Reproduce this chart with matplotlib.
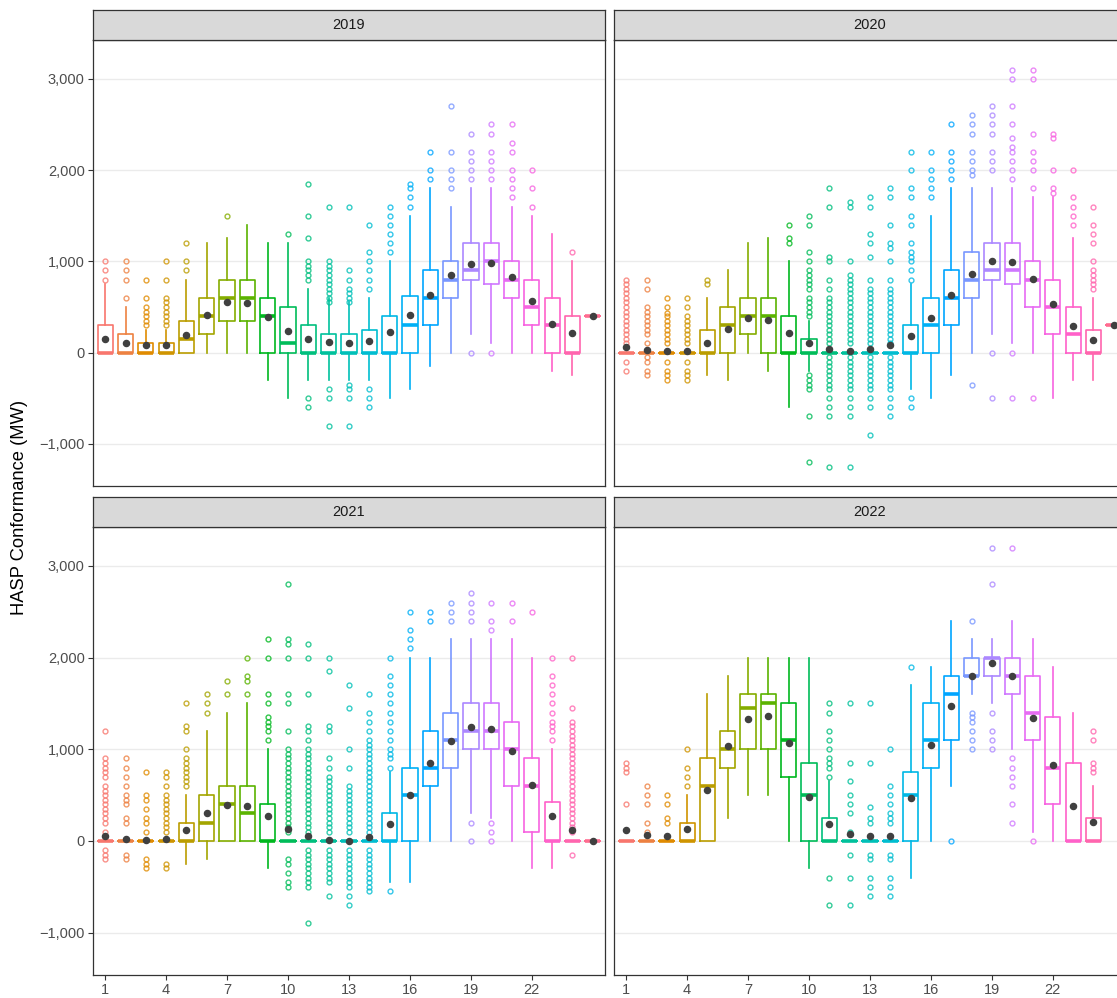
import numpy as np
import matplotlib
matplotlib.use('Agg')
import matplotlib.pyplot as plt

plt.rcParams['font.family'] = ['Liberation Sans', 'DejaVu Sans']

# hour of day (25 = DST fall-back hour)
hours = list(range(1, 26))
years = ['2019', '2020', '2021', '2022']
xtick_hours = [1, 4, 7, 10, 13, 16, 19, 22]
ytick_vals = [-1000, 0, 1000, 2000, 3000]
ytick_labels = ['\u22121,000', '0', '1,000', '2,000', '3,000']

# ---- 2019 ----
q1_2019 = [0, 0, 0, 0, 0, 200, 350, 350, 0, 0, 0, 0, 0, 0, 0, 0, 300, 600, 800, 750, 600, 300, 0, 0, 400]
med_2019 = [0, 0, 0, 0, 150, 400, 600, 600, 400, 100, 0, 0, 0, 0, 0, 300, 600, 800, 900, 1000, 800, 500, 300, 0, 400]
q3_2019 = [300, 200, 100, 100, 350, 600, 800, 800, 600, 500, 300, 200, 200, 250, 400, 620, 900, 1000, 1200, 1200, 1000, 800, 600, 400, 400]
wlo_2019 = [0, 0, 0, 0, 0, 0, 0, 0, -300, -500, -300, -300, -300, -300, -500, -400, -150, 0, 200, 100, 0, 0, -200, -250, 400]
whi_2019 = [750, 500, 250, 250, 800, 1200, 1250, 1400, 1200, 1200, 700, 600, 550, 600, 1000, 1500, 1800, 1600, 1800, 1800, 1600, 1500, 1300, 1000, 400]
mean_2019 = [150, 110, 80, 85, 195, 410, 555, 545, 385, 240, 150, 120, 110, 130, 220, 410, 630, 855, 975, 985, 825, 560, 315, 210, 400]
out_2019 = [
    [800, 900, 1000],
    [600, 800, 900, 1000],
    [300, 350, 400, 450, 500, 600, 800],
    [300, 350, 400, 450, 500, 550, 600, 800, 1000],
    [900, 1000, 1200],
    [],
    [1500],
    [],
    [],
    [1300],
    [800, 850, 900, 950, 1000, 1250, 1500, 1850, -500, -600],
    [550, 600, 650, 700, 750, 800, 850, 900, 950, 1000, 1600, -400, -500, -800],
    [550, 600, 650, 700, 800, 900, 1600, -350, -400, -500, -800],
    [700, 800, 900, 1000, 1100, 1400, -400, -500, -600],
    [1100, 1200, 1300, 1400, 1500, 1600],
    [1600, 1700, 1800, 1850],
    [1900, 2000, 2200],
    [1800, 1900, 2000, 2200, 2700],
    [1900, 2000, 2100, 2200, 2400, 0],
    [1900, 2000, 2100, 2200, 2400, 2500, 0],
    [1700, 1800, 1900, 2000, 2200, 2300, 2500],
    [1600, 1800, 2000],
    [],
    [1100],
    [],
]

# ---- 2020 ----
q1_2020 = [0, 0, 0, 0, 0, 0, 200, 0, 0, 0, 0, 0, 0, 0, 0, 0, 300, 600, 800, 750, 500, 200, 0, 0, 300]
med_2020 = [0, 0, 0, 0, 0, 300, 400, 400, 0, 0, 0, 0, 0, 0, 0, 300, 600, 800, 900, 900, 800, 500, 200, 0, 300]
q3_2020 = [0, 0, 0, 0, 250, 500, 600, 600, 400, 150, 0, 0, 0, 0, 300, 600, 900, 1100, 1200, 1200, 1000, 800, 500, 250, 300]
wlo_2020 = [0, 0, 0, 0, -250, -300, 0, -200, -600, -200, 0, 0, 0, 0, -400, -500, -250, 0, 200, 100, 0, -500, -300, -300, 300]
whi_2020 = [0, 0, 0, 0, 600, 900, 1200, 1250, 1000, 350, 0, 0, 0, 0, 750, 1500, 1800, 1800, 1800, 1800, 1700, 1700, 1250, 600, 300]
mean_2020 = [65, 30, 18, 22, 100, 255, 380, 355, 215, 100, 35, 22, 35, 85, 178, 375, 635, 865, 1000, 995, 810, 535, 295, 135, 300]
out_2020 = [
    [100, 150, 200, 250, 300, 350, 400, 450, 500, 550, 600, 650, 700, 750, 800, -100, -200],
    [100, 200, 250, 300, 350, 400, 450, 500, 700, 800, -50, -100, -200, -250],
    [100, 150, 200, 250, 300, 350, 400, 430, 500, 600, -100, -200, -250, -300],
    [100, 150, 200, 250, 300, 350, 400, 500, 600, -100, -200, -250, -300],
    [750, 800],
    [],
    [],
    [],
    [1200, 1250, 1400],
    [400, 450, 500, 550, 600, 700, 750, 800, 850, 900, 1000, 1100, 1400, 1500, -250, -300, -350, -400, -700, -1200],
    [100, 150, 200, 250, 300, 350, 400, 450, 500, 550, 600, 700, 800, 1000, 1050, 1600, 1800,
     -50, -100, -150, -200, -250, -300, -350, -400, -500, -600, -700, -1250],
    [100, 150, 200, 250, 300, 350, 400, 450, 500, 550, 600, 650, 700, 750, 800, 850, 1000, 1600, 1650,
     -50, -100, -150, -200, -250, -300, -350, -400, -500, -600, -700, -1250],
    [100, 150, 200, 250, 300, 350, 400, 450, 500, 550, 600, 650, 700, 800, 1050, 1200, 1300, 1600, 1700,
     -50, -100, -150, -200, -250, -300, -350, -400, -500, -600, -900],
    [100, 150, 200, 250, 300, 350, 400, 450, 500, 550, 600, 650, 700, 800, 1000, 1150, 1200, 1400, 1700, 1800,
     -50, -100, -150, -200, -250, -300, -350, -400, -500, -600, -700],
    [800, 900, 1000, 1050, 1100, 1200, 1400, 1500, 1700, 1800, 2000, 2200, -500, -600],
    [1700, 1800, 1900, 2000, 2200],
    [1900, 2000, 2100, 2200, 2500],
    [1950, 2000, 2100, 2200, 2400, 2500, 2600, -350],
    [2000, 2100, 2200, 2400, 2500, 2600, 2700, 0, -500],
    [1900, 2000, 2100, 2200, 2250, 2350, 2500, 2700, 3000, 3100, 0, -500],
    [1800, 2000, 2100, 2200, 2400, 3000, 3100, -500],
    [1750, 1800, 2000, 2350, 2400],
    [1400, 1500, 1600, 1700, 2000],
    [700, 750, 800, 850, 900, 1000, 1200, 1300, 1400, 1600],
    [],
]

# ---- 2021 ----
q1_2021 = [0, 0, 0, 0, 0, 0, 0, 0, 0, 0, 0, 0, 0, 0, 0, 0, 600, 800, 1000, 1000, 600, 100, 0, 0, 0]
med_2021 = [0, 0, 0, 0, 0, 200, 400, 300, 0, 0, 0, 0, 0, 0, 0, 500, 800, 1100, 1200, 1200, 1000, 600, 0, 0, 0]
q3_2021 = [0, 0, 0, 0, 200, 500, 600, 600, 400, 0, 0, 0, 0, 0, 300, 800, 1200, 1400, 1500, 1500, 1300, 900, 425, 0, 0]
wlo_2021 = [0, 0, 0, 0, -250, -200, 0, 0, -300, 0, 0, 0, 0, 0, -450, -450, 0, 0, 300, 250, 0, -300, -300, 0, 0]
whi_2021 = [0, 0, 0, 0, 500, 1200, 1400, 1500, 1000, 0, 0, 0, 0, 0, 750, 2000, 2000, 2200, 2200, 2200, 2200, 2000, 1000, 0, 0]
mean_2021 = [50, 18, 7, 18, 120, 300, 395, 380, 270, 135, 55, 15, 0, 47, 182, 500, 850, 1095, 1248, 1220, 985, 610, 277, 117, 0]
out_2021 = [
    [100, 200, 250, 300, 350, 400, 450, 500, 550, 600, 700, 750, 800, 850, 900, 1200, -100, -150, -200],
    [200, 250, 400, 450, 500, 600, 700, 800, 900, -150, -200],
    [100, 200, 250, 350, 450, 500, 750, -200, -250, -300],
    [100, 150, 200, 250, 300, 350, 400, 450, 500, 600, 700, 750, -250, -300],
    [600, 650, 700, 750, 800, 850, 900, 1000, 1200, 1250, 1500],
    [1400, 1500, 1600],
    [1600, 1750],
    [1600, 1750, 1800, 2000],
    [1100, 1200, 1250, 1300, 1350, 1500, 1600, 2000, 2200],
    [100, 150, 200, 250, 300, 350, 400, 450, 500, 550, 600, 650, 700, 750, 800, 850, 900, 950, 1000,
     1200, 1500, 1600, 2000, 2150, 2200, 2800, -200, -250, -350, -450, -500],
    [100, 150, 200, 250, 300, 350, 400, 450, 500, 550, 600, 650, 700, 750, 800, 850, 900, 950, 1000,
     1100, 1200, 1250, 1600, 2000, 2150, -100, -150, -200, -250, -300, -350, -400, -450, -500, -900],
    [100, 150, 200, 250, 300, 350, 400, 450, 500, 550, 600, 650, 700, 800, 900, 1200, 1250, 1850, 2000,
     -100, -150, -200, -250, -300, -350, -400, -450, -600],
    [100, 150, 200, 250, 300, 350, 400, 450, 500, 550, 600, 800, 1000, 1450, 1700,
     -100, -150, -200, -250, -300, -350, -400, -450, -500, -600, -700],
    [100, 150, 200, 250, 300, 350, 400, 450, 500, 550, 600, 650, 700, 750, 800, 850, 900, 950, 1000, 1050,
     1100, 1200, 1300, 1400, 1600, -100, -150, -200, -250, -300, -350, -400, -450, -500, -550],
    [800, 900, 950, 1000, 1100, 1200, 1300, 1400, 1500, 1600, 1700, 1800, 2000, -550],
    [2100, 2200, 2300, 2500],
    [2400, 2500],
    [2400, 2500, 2600],
    [2400, 2500, 2600, 2700, 200, 0],
    [2300, 2400, 2600, 200, 100, 0],
    [2400, 2600],
    [2500],
    [1100, 1200, 1250, 1300, 1400, 1500, 1600, 1700, 1800, 2000],
    [100, 150, 200, 250, 300, 350, 400, 450, 500, 550, 600, 650, 700, 750, 800, 850, 900, 950, 1000,
     1050, 1100, 1150, 1200, 1250, 1300, 1450, 2000, -150],
    [],
]

# ---- 2022 (no hour 25) ----
q1_2022 = [0, 0, 0, 0, 0, 800, 1000, 1000, 700, 0, 0, 0, 0, 0, 0, 800, 1100, 1800, 1800, 1600, 1100, 400, 0, 0]
med_2022 = [0, 0, 0, 0, 600, 1000, 1450, 1500, 1100, 500, 0, 0, 0, 0, 500, 1100, 1600, 1800, 2000, 1800, 1400, 800, 0, 0]
q3_2022 = [0, 0, 0, 200, 900, 1200, 1600, 1600, 1500, 850, 250, 0, 0, 0, 750, 1500, 1800, 2000, 2000, 2000, 1800, 1350, 850, 250]
wlo_2022 = [0, 0, 0, 0, 0, 250, 500, 500, 0, -300, 0, 0, 0, 0, -400, 0, 600, 1600, 1500, 1000, 100, 0, 0, 0]
whi_2022 = [0, 0, 0, 500, 1600, 1800, 2000, 2000, 2000, 2000, 650, 0, 0, 0, 1700, 1900, 2400, 2200, 2200, 2400, 2200, 1900, 1400, 600]
mean_2022 = [115, 60, 50, 135, 560, 1040, 1330, 1360, 1065, 485, 180, 80, 55, 55, 465, 1050, 1470, 1800, 1945, 1795, 1345, 825, 385, 205]
out_2022 = [
    [400, 750, 800, 850],
    [100, 200, 400, 500, 600],
    [200, 250, 400, 500],
    [600, 700, 800, 1000],
    [],
    [],
    [],
    [],
    [],
    [],
    [700, 800, 850, 900, 1000, 1100, 1200, 1400, 1500, -400, -700],
    [100, 300, 400, 500, 650, 850, 1500, -150, -400, -700],
    [200, 250, 375, 850, 1500, -150, -200, -400, -500, -600],
    [200, 250, 300, 400, 500, 600, 1000, -150, -200, -400, -500, -600],
    [1900],
    [],
    [0],
    [2400, 1400, 1350, 1300, 1200, 1100, 1000],
    [2800, 3200, 1400, 1200, 1100, 1000],
    [3200, 900, 800, 700, 600, 400, 200],
    [0],
    [],
    [],
    [800, 850, 750, 1100, 1200],
]

year_data = {
    '2019': (q1_2019, med_2019, q3_2019, wlo_2019, whi_2019, mean_2019, out_2019),
    '2020': (q1_2020, med_2020, q3_2020, wlo_2020, whi_2020, mean_2020, out_2020),
    '2021': (q1_2021, med_2021, q3_2021, wlo_2021, whi_2021, mean_2021, out_2021),
    '2022': (q1_2022, med_2022, q3_2022, wlo_2022, whi_2022, mean_2022, out_2022),
}


def hcl_hex(h, c=100.0, l=65.0):
    # same conversion as R's hcl(), used by ggplot's default hue palette
    wx, wy, wz = 95.047, 100.0, 108.883
    hr = np.deg2rad(h)
    U = c * np.cos(hr)
    V = c * np.sin(hr)
    Y = wy * ((l + 16) / 116) ** 3
    t = wx + wy + wz
    x, y = wx / t, wy / t
    un = 2 * x / (6 * y - x + 1.5)
    vn = 4.5 * y / (6 * y - x + 1.5)
    u = U / (13 * l) + un
    v = V / (13 * l) + vn
    X = 9.0 * Y * u / (4 * v)
    Z = -X / 3 - 5 * Y + 3 * Y / v
    rgb = [3.240479 * X - 1.537150 * Y - 0.498535 * Z,
           -0.969256 * X + 1.875992 * Y + 0.041556 * Z,
           0.055648 * X - 0.204043 * Y + 1.057311 * Z]
    out = []
    for ch in rgb:
        ch = ch / wy
        ch = 1.055 * ch ** (1 / 2.4) - 0.055 if ch > 0.00304 else 12.92 * ch
        out.append(min(max(ch, 0.0), 1.0))
    return tuple(out)


colors = [hcl_hex(15 + 360.0 * i / len(hours)) for i in range(len(hours))]

W, H = 1117, 998
fig = plt.figure(figsize=(W / 100, H / 100), dpi=100)


def px_axes(x0, y0, w, h):
    return fig.add_axes([x0 / W, 1 - (y0 + h) / H, w / W, h / H])


panel_pos = {
    '2019': (93, 40, 512, 446),
    '2020': (614, 40, 512, 446),
    '2021': (93, 527, 512, 448),
    '2022': (614, 527, 512, 448),
}

for yr in years:
    x0, y0, w, h = panel_pos[yr]
    ax = px_axes(x0, y0, w, h)
    q1, med, q3, wlo, whi, mean, outl = year_data[yr]

    for hr, a, m, b, lo, hi, mn, fl in zip(hours, q1, med, q3, wlo, whi, mean, outl):
        c = colors[hr - 1]
        st = {'q1': a, 'med': m, 'q3': b, 'whislo': lo, 'whishi': hi,
              'mean': mn, 'fliers': fl}
        ax.bxp([st], positions=[hr], widths=0.75, showcaps=False, showmeans=True,
               manage_ticks=False,
               boxprops=dict(color=c, lw=1.2),
               whiskerprops=dict(color=c, lw=1.2),
               medianprops=dict(color=c, lw=2.6, solid_capstyle='butt'),
               meanprops=dict(marker='o', markerfacecolor='#404040',
                              markeredgecolor='#404040', markersize=4.4, zorder=6),
               flierprops=dict(marker='o', markerfacecolor='none', markeredgecolor=c,
                               markersize=3.5, markeredgewidth=1.0, alpha=0.8))

    ax.set_xlim(0.4, 25.6)
    ax.set_ylim(-1462, 3425)
    ax.set_yticks(ytick_vals)
    ax.set_yticklabels(ytick_labels)
    ax.set_xticks(xtick_hours)
    ax.set_xticklabels([str(v) for v in xtick_hours])
    ax.yaxis.grid(True, color='#EBEBEB', lw=1.0)
    ax.set_axisbelow(True)
    for sp in ax.spines.values():
        sp.set_color('#333333')
        sp.set_linewidth(0.9)
    ax.tick_params(axis='both', colors='#333333', labelcolor='#4D4D4D',
                   labelsize=10.5, length=3.5, width=0.8, pad=2.5)
    if yr in ('2020', '2022'):
        ax.tick_params(axis='y', left=False, labelleft=False)
    if yr in ('2019', '2020'):
        ax.tick_params(axis='x', bottom=False, labelbottom=False)

    # facet strip
    sax = px_axes(x0, y0 - 30, w, 30)
    sax.set_facecolor('#D9D9D9')
    sax.set_xticks([])
    sax.set_yticks([])
    for sp in sax.spines.values():
        sp.set_color('#333333')
        sp.set_linewidth(0.9)
    sax.text(0.5, 0.5, yr, transform=sax.transAxes, ha='center', va='center',
             fontsize=10.5, color='#1A1A1A')

fig.text(20 / W, 1 - 507 / H, 'HASP Conformance (MW)', rotation=90,
         ha='center', va='center', fontsize=13.2, color='black')

fig.savefig('out.png', dpi=100)
